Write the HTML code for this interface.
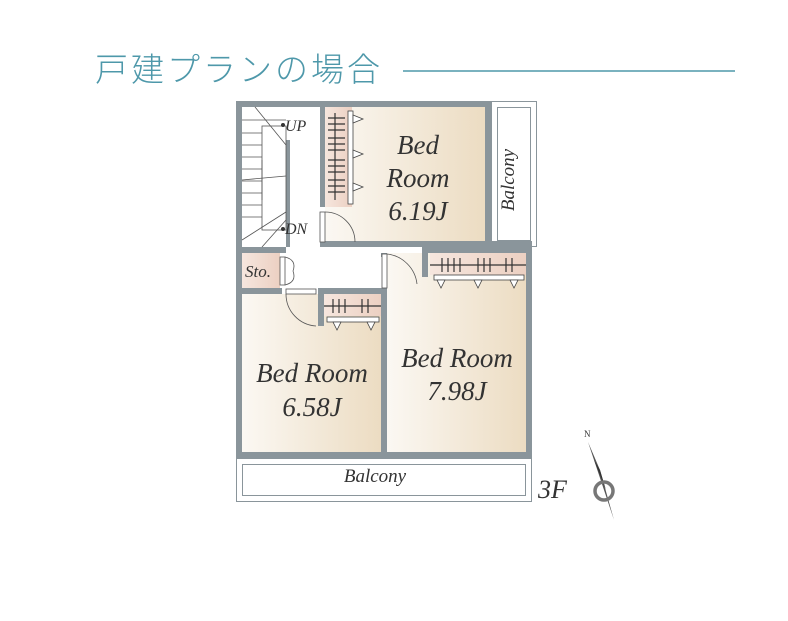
<!DOCTYPE html>
<html><head><meta charset="utf-8"><style>
html,body{margin:0;padding:0;background:#fff;}
svg{display:block}
</style></head><body>
<svg width="788" height="621" viewBox="0 0 788 621" xmlns="http://www.w3.org/2000/svg">
<defs>
<linearGradient id="g" x1="0" x2="1" y1="0" y2="0">
<stop offset="0" stop-color="#fbf8f3"/><stop offset="1" stop-color="#ecdcc2"/>
</linearGradient>
<linearGradient id="p" x1="0" x2="1"><stop offset="0" stop-color="#f6e6de"/><stop offset="1" stop-color="#ecd0c2"/></linearGradient>
</defs>
<text x="95" y="81" font-family="Noto Sans CJK JP, sans-serif" font-weight="300" font-size="33" letter-spacing="3" fill="#4e98aa">戸建プランの場合</text>
<line x1="403" y1="71" x2="735" y2="71" stroke="#4e98aa" stroke-width="1.5"/>

<rect x="325" y="107" width="160" height="134" fill="url(#g)"/>
<rect x="242" y="294" width="139" height="158" fill="url(#g)"/>
<rect x="387" y="253" width="139" height="199" fill="url(#g)"/>
<rect x="242" y="253" width="38" height="35" fill="url(#p)"/>
<rect x="325" y="107" width="27" height="100" fill="url(#p)"/>
<rect x="430" y="253" width="96" height="22" fill="url(#p)"/>
<rect x="324" y="294" width="57" height="22" fill="url(#p)"/>

<rect x="491.5" y="101.5" width="45" height="145" fill="#fff" stroke="#8a959b" stroke-width="1"/>
<rect x="497.5" y="107.5" width="33" height="133" fill="#fff" stroke="#8a959b" stroke-width="1"/>
<rect x="236.5" y="458.5" width="295" height="43" fill="#fff" stroke="#8a959b" stroke-width="1"/>
<rect x="242.5" y="464.5" width="283" height="31" fill="#fff" stroke="#8a959b" stroke-width="1"/>

<g fill="#8a959b">
<rect x="236" y="101" width="255" height="6"/>
<rect x="236" y="101" width="6" height="357"/>
<rect x="236" y="452" width="296" height="6"/>
<rect x="485" y="101" width="6" height="146"/>
<rect x="526" y="247" width="6" height="211"/>
<rect x="320" y="107" width="5" height="100"/>
<rect x="320" y="241" width="212" height="6"/>
<rect x="236" y="247" width="50" height="6"/>
<rect x="236" y="288" width="46" height="6"/>
<rect x="318" y="288" width="69" height="6"/>
<rect x="318" y="288" width="6" height="38"/>
<rect x="381" y="288" width="6" height="170"/>
<rect x="381" y="253" width="6" height="4"/>
<rect x="422" y="247" width="110" height="6"/>
<rect x="422" y="247" width="6" height="30"/>
<rect x="286" y="140" width="4" height="107"/>
</g>

<g stroke="#555" stroke-width="0.8" fill="none">
<rect x="262" y="126" width="24" height="104"/>
<line x1="242" y1="120" x2="286" y2="120"/><line x1="242" y1="133" x2="262" y2="133"/>
<line x1="242" y1="145" x2="262" y2="145"/><line x1="242" y1="157" x2="262" y2="157"/>
<line x1="242" y1="169" x2="262" y2="169"/><line x1="242" y1="181" x2="262" y2="181"/>
<line x1="242" y1="193" x2="262" y2="193"/><line x1="242" y1="205" x2="262" y2="205"/>
<line x1="242" y1="217" x2="262" y2="217"/>
<line x1="255" y1="107" x2="286" y2="145"/><line x1="242" y1="180" x2="286" y2="176"/>
<line x1="242" y1="240" x2="286" y2="212"/><line x1="262" y1="247" x2="286" y2="220"/>
<line x1="262" y1="160" x2="262" y2="200"/>
</g>
<circle cx="283" cy="125" r="2" fill="#333"/><circle cx="283" cy="229" r="2" fill="#333"/>
<g font-family="Liberation Serif, serif" font-style="italic" fill="#333">
<text x="285" y="131" font-size="16">UP</text>
<text x="285" y="234" font-size="16">DN</text>
<text x="245" y="277" font-size="17">Sto.</text>
<text x="418" y="154" font-size="27" text-anchor="middle">Bed</text>
<text x="418" y="187" font-size="27" text-anchor="middle">Room</text>
<text x="418" y="220" font-size="27" text-anchor="middle">6.19J</text>
<text x="312" y="382" font-size="27" text-anchor="middle">Bed Room</text>
<text x="312" y="416" font-size="27" text-anchor="middle">6.58J</text>
<text x="457" y="367" font-size="27" text-anchor="middle">Bed Room</text>
<text x="457" y="400" font-size="27" text-anchor="middle">7.98J</text>
<text x="375" y="482" font-size="19" text-anchor="middle">Balcony</text>
<text x="514" y="180" font-size="19" text-anchor="middle" transform="rotate(-90 514 180)">Balcony</text>
<text x="538" y="498" font-size="26">3F</text>
<text x="584" y="437" font-size="9" font-style="normal">N</text>
</g>

<g stroke="#444" stroke-width="0.8" fill="#fff">
<rect x="348" y="111" width="5" height="93"/>
<rect x="434" y="275" width="90" height="5"/>
<rect x="327" y="317" width="52" height="5"/>
<path d="M353 115 l10 4 l-10 4z M353 150 l10 4 l-10 4z M353 183 l10 4 l-10 4z"/>
<path d="M437 280 l8 0 l-4 8z M474 280 l8 0 l-4 8z M510 280 l8 0 l-4 8z"/>
<path d="M333 322 l8 0 l-4 8z M367 322 l8 0 l-4 8z"/>
</g>
<g stroke="#333" stroke-width="1.2">
<line x1="335" y1="113" x2="335" y2="200"/>
<line x1="328" y1="118" x2="345" y2="118"/><line x1="328" y1="124" x2="345" y2="124"/><line x1="328" y1="130" x2="345" y2="130"/>
<line x1="328" y1="138" x2="345" y2="138"/><line x1="328" y1="144" x2="345" y2="144"/><line x1="328" y1="150" x2="345" y2="150"/>
<line x1="328" y1="160" x2="345" y2="160"/><line x1="328" y1="166" x2="345" y2="166"/><line x1="328" y1="172" x2="345" y2="172"/>
<line x1="328" y1="180" x2="345" y2="180"/><line x1="328" y1="186" x2="345" y2="186"/><line x1="328" y1="192" x2="345" y2="192"/>
<line x1="430" y1="265" x2="526" y2="265"/>
<line x1="442" y1="258" x2="442" y2="272"/><line x1="448" y1="258" x2="448" y2="272"/><line x1="454" y1="258" x2="454" y2="272"/><line x1="460" y1="258" x2="460" y2="272"/>
<line x1="478" y1="258" x2="478" y2="272"/><line x1="484" y1="258" x2="484" y2="272"/><line x1="490" y1="258" x2="490" y2="272"/>
<line x1="506" y1="258" x2="506" y2="272"/><line x1="512" y1="258" x2="512" y2="272"/>
<line x1="324" y1="306" x2="381" y2="306"/>
<line x1="333" y1="299" x2="333" y2="313"/><line x1="339" y1="299" x2="339" y2="313"/><line x1="345" y1="299" x2="345" y2="313"/>
<line x1="362" y1="299" x2="362" y2="313"/><line x1="368" y1="299" x2="368" y2="313"/>
</g>

<g stroke="#555" stroke-width="0.8" fill="#fff">
<rect x="320" y="212" width="5" height="30"/>
<path d="M325 212 A30 30 0 0 1 355 242" fill="none"/>
<rect x="382" y="254" width="5" height="34"/>
<path d="M387 254 A34 34 0 0 1 417 284" fill="none"/>
<rect x="280" y="257" width="5" height="28"/>
<path d="M285 257 q12 3 8 14 M285 285 q12 -3 8 -14" fill="none"/>
<rect x="286" y="289" width="30" height="5"/>
<path d="M286 294 A32 32 0 0 0 316 326" fill="none"/>
</g>

<g>
<polygon points="588,442 594,460 614,520 600,470" fill="#555"/>
<polygon points="594,460 600,470 606,490" fill="#333"/>
<circle cx="604" cy="491" r="9" fill="none" stroke="#777" stroke-width="3.5"/>
</g>
</svg>
</body></html>
